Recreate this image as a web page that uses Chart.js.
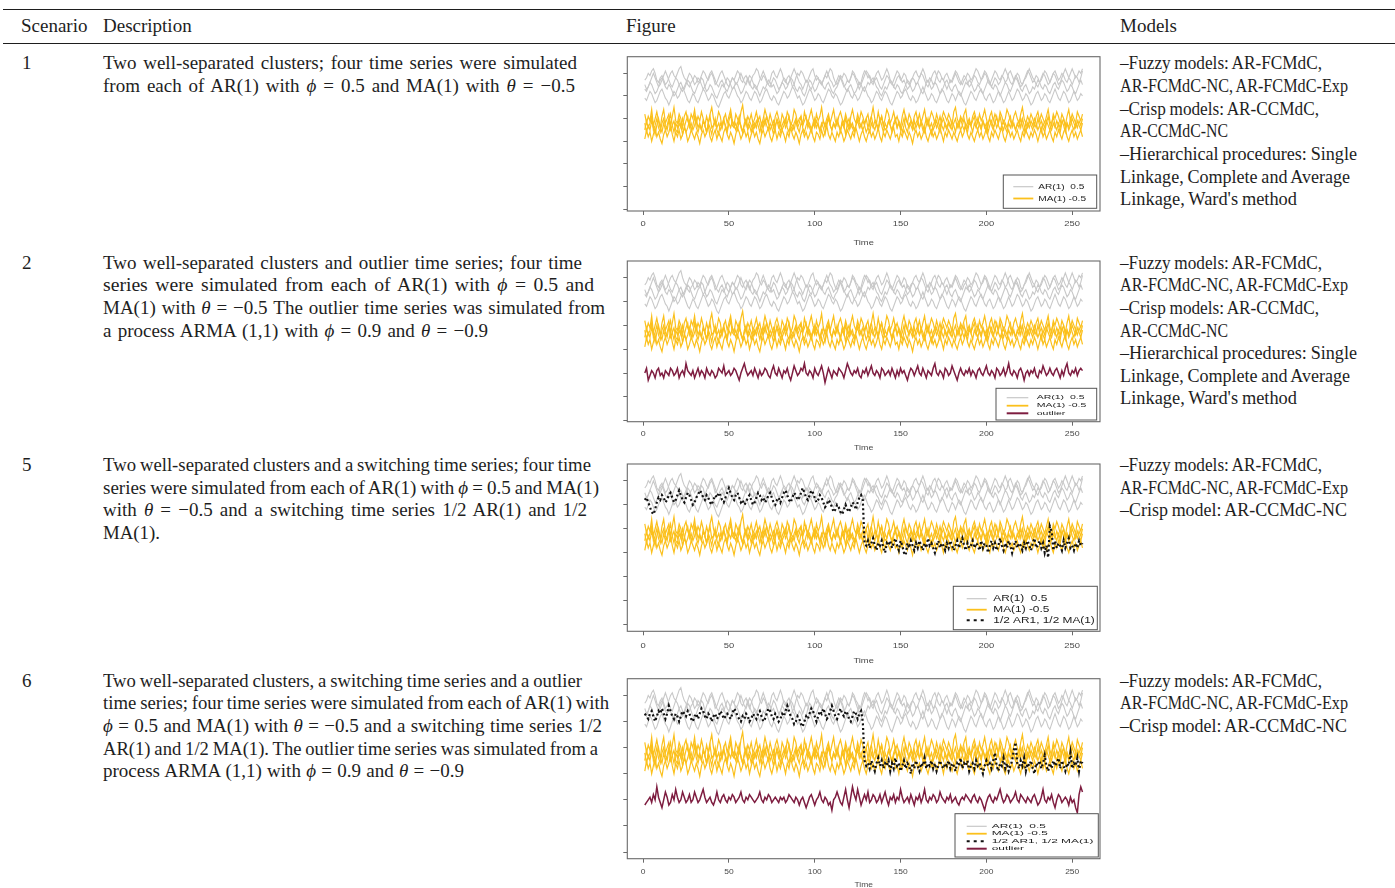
<!DOCTYPE html>
<html lang="en">
<head>
<meta charset="utf-8">
<title>Simulation scenarios</title>
<script src="https://cdn.jsdelivr.net/npm/chart.js@4.4.1/dist/chart.umd.min.js"></script>
<style>
  html, body { margin: 0; padding: 0; background: #fff; }
  body { position: relative; width: 1395px; height: 888px; overflow: hidden;
         font-family: "Liberation Serif", "Times New Roman", serif; color: #1e1e1e; }
  .rule { position: absolute; left: 3px; width: 1392px; height: 1.6px; background: #1e1e1e; }
  .ln { position: absolute; white-space: nowrap; font-size: 19px; line-height: 22.65px; transform-origin: 0 0; }
  .ln i { font-style: italic; }
  canvas.fig { position: absolute; filter: blur(0.3px); }
</style>
</head>
<body>
<div class="rule" style="top:8.5px"></div>
<div class="rule" style="top:42.7px"></div>
<script>
// ---------- simulated series, Time = 1 ... 256 ----------
// AR(1), phi = 0.5
const GRAY_1 = [
  57,58,60,59,61,62,60,57, 56,58,59,57,55,56,58,60,
  61,59,58,60,62,63,60,58, 57,55,54,56,57,59,58,56,
  57,59,61,60,58,57,59,60, 58,55,56,58,60,61,59,57,
  55,54,56,58,57,59,61,60, 57,56,58,59,57,55,57,59,
  60,62,61,58,57,59,58,56, 55,57,60,61,59,58,60,62,
  60,57,56,58,59,57,54,55, 58,60,59,61,60,58,56,57,
  59,61,62,59,57,58,56,55, 57,59,58,60,62,61,58,56,
  55,57,59,58,60,59,57,56, 58,61,60,58,57,55,56,59,
  61,60,58,59,57,56,58,60, 61,59,57,58,60,62,60,57,
  56,54,56,58,59,57,58,60, 59,56,55,57,58,60,61,59,
  58,60,62,60,57,56,58,57, 55,56,59,61,60,58,57,59,
  60,58,56,57,59,61,60,58, 56,55,57,58,60,59,57,58,
  60,62,61,59,57,58,60,59, 56,55,57,59,61,60,58,57,
  59,58,56,57,60,61,59,57, 58,60,59,56,55,57,58,60,
  62,60,58,57,59,58,56,57, 59,61,60,58,56,58,60,61,
  59,57,58,60,59,57,56,58, 60,62,60,58,59,61,60,62];
const GRAY_2 = [
  53,52,54,56,55,53,51,52, 54,57,58,56,54,53,55,54,
  52,50,51,53,55,56,54,53, 55,57,56,54,52,51,53,55,
  56,58,57,54,52,53,55,54, 52,50,49,51,53,55,54,56,
  58,57,55,53,54,56,55,53, 51,52,54,56,58,56,54,53,
  55,54,52,50,52,54,53,55, 57,56,54,55,53,51,52,54,
  56,55,53,54,56,58,57,55, 53,52,54,53,51,50,52,55,
  57,56,54,52,53,55,57,56, 54,53,55,56,54,52,51,53,
  54,56,58,57,55,53,52,54, 55,53,51,52,54,56,55,53,
  52,54,56,55,57,58,56,54, 53,51,50,52,54,53,55,57,
  56,54,53,55,54,52,51,53, 55,57,56,54,52,53,55,56,
  54,52,51,53,56,57,55,53, 54,56,55,53,51,52,54,56,
  57,55,53,52,54,55,53,51, 50,52,54,56,55,57,56,54,
  52,53,55,54,52,51,53,55, 57,56,54,53,55,54,52,50,
  52,54,56,55,53,52,54,56, 58,57,55,53,52,54,55,53,
  51,52,54,53,55,57,56,54, 53,55,54,52,51,53,55,56,
  54,53,55,57,56,54,52,53, 55,54,52,51,53,55,57,55];
const GRAY_3 = [
  49,48,50,52,51,49,47,48, 50,52,53,51,49,48,46,48,
  50,52,51,49,50,52,54,52, 50,48,47,49,51,50,48,47,
  49,51,53,52,50,48,49,51, 50,48,46,45,47,49,51,52,
  50,49,51,53,54,52,50,49, 47,48,50,52,51,49,48,50,
  52,51,49,47,48,50,52,53, 51,49,48,50,49,47,46,48,
  50,52,51,49,50,52,54,53, 51,49,50,48,46,47,49,51,
  53,52,50,48,49,51,50,48, 47,49,51,53,52,50,49,51,
  50,48,46,47,49,51,53,52, 50,49,51,50,48,49,51,53,
  54,52,50,49,47,48,50,52, 51,49,48,50,52,51,49,47,
  46,48,50,52,51,49,50,52, 53,51,49,48,50,49,47,48,
  50,52,54,52,50,48,49,51, 50,48,47,49,51,53,52,50,
  48,47,49,51,50,48,50,52, 51,49,47,46,48,50,52,51,
  49,48,50,52,53,51,49,48, 50,51,49,47,48,50,52,51,
  49,47,48,50,52,50,48,49, 51,53,52,50,48,49,51,50,
  48,46,47,49,51,52,50,48, 49,51,50,48,47,49,51,53,
  51,49,48,50,52,51,49,47, 48,50,52,50,48,49,51,50];
const GRAY_4 = [
  55,53,54,56,58,60,58,56, 54,55,57,59,61,59,57,55,
  54,56,58,57,55,53,52,54, 56,58,60,59,57,55,56,58,
  57,55,53,54,56,58,60,61, 59,57,55,54,56,57,55,53,
  52,54,56,58,57,55,56,58, 60,58,56,55,57,59,58,56,
  54,53,55,57,59,61,59,57, 55,54,56,58,57,55,53,54,
  56,58,57,55,56,58,60,62, 60,58,56,55,53,55,57,56,
  54,53,55,57,59,58,56,55, 57,59,61,59,57,56,54,55,
  57,59,58,56,54,55,57,56, 58,60,59,57,55,53,55,57,
  59,61,60,58,56,55,57,58, 56,54,53,55,57,59,58,56,
  55,57,59,61,60,58,56,57, 55,53,54,56,58,57,55,56,
  58,60,59,57,55,54,56,58, 60,61,59,57,56,58,57,55,
  53,55,57,56,58,60,58,56, 55,57,59,58,56,54,55,57,
  59,58,56,55,57,59,61,60, 58,56,54,56,58,57,55,56,
  58,60,62,60,58,56,55,57, 59,58,56,54,55,57,59,61,
  60,58,56,57,55,54,56,58, 60,59,57,55,56,58,60,59,
  57,55,56,58,60,62,60,58, 57,55,57,59,58,56,58,61];
// MA(1), theta = -0.5
const YELLOW_1 = [
  42,38,41,39,44,37,40,43, 39,36,41,44,38,40,42,37,
  41,45,39,38,42,40,36,41, 43,39,37,42,40,44,38,41,
  39,43,40,37,41,38,42,45, 40,37,39,43,41,36,40,42,
  38,41,44,39,37,42,40,38, 43,46,40,37,41,39,42,38,
  40,43,39,41,37,40,44,41, 38,42,39,36,41,43,40,37,
  42,40,38,43,41,37,39,44, 42,38,40,41,37,43,40,38,
  41,44,40,37,42,39,41,45, 39,37,40,42,38,41,44,39,
  37,41,43,40,38,42,39,36, 41,44,40,38,42,39,43,41,
  38,40,42,37,41,45,40,38, 43,39,41,37,40,44,42,38,
  40,43,39,41,38,36,41,44, 40,38,42,40,37,41,43,39,
  42,38,41,44,39,37,40,43, 41,38,42,39,36,40,43,41,
  39,42,40,37,43,45,40,38, 41,39,42,44,38,40,37,41,
  43,40,38,42,39,41,44,40, 37,41,43,39,42,40,38,43,
  41,38,40,44,42,39,37,41, 43,40,38,42,45,40,38,41,
  39,42,40,37,41,43,39,42, 40,38,41,44,39,37,42,40,
  43,41,38,42,40,37,41,44, 39,42,40,38,43,41,39,42];
const YELLOW_2 = [
  35,39,36,38,41,35,37,40, 36,34,38,40,37,35,39,42,
  37,34,38,36,40,37,33,36, 39,41,36,38,35,37,40,36,
  38,35,39,37,34,38,41,36, 37,40,35,33,38,36,39,37,
  35,39,42,37,36,38,35,39, 37,34,38,40,36,39,37,35,
  38,36,40,37,34,39,37,41, 38,35,37,39,36,40,38,34,
  37,39,36,38,41,37,35,38, 40,36,34,38,37,39,41,36,
  38,35,37,40,36,38,34,37, 39,36,38,41,37,35,38,36,
  40,37,35,39,37,33,38,40, 36,38,35,37,40,38,36,39,
  37,34,36,39,41,37,35,38, 36,40,37,34,38,36,39,37,
  35,38,40,36,39,37,34,37, 41,38,36,39,37,35,38,40,
  36,38,35,37,40,38,36,33, 37,39,36,38,41,37,35,38,
  36,39,37,35,38,40,36,38, 35,37,40,36,34,38,37,39,
  41,37,35,38,36,39,37,34, 38,40,37,35,39,36,38,41,
  37,35,38,36,39,41,36,38, 35,37,39,36,40,37,34,38,
  36,39,37,40,38,35,37,39, 36,34,38,41,37,35,38,36,
  39,37,34,38,40,36,38,35, 37,40,38,36,39,37,35,38];
const YELLOW_3 = [
  31,35,32,34,30,33,36,32, 34,31,29,33,35,32,34,37,
  33,30,34,32,35,31,33,36, 34,30,32,35,33,31,34,32,
  29,33,35,32,34,37,32,30, 33,35,31,34,32,30,34,36,
  33,31,34,32,29,33,36,34, 31,33,35,32,34,30,33,35,
  32,34,31,29,33,35,32,34, 36,32,30,33,35,31,34,32,
  35,33,30,34,32,36,33,31, 34,32,29,33,35,32,34,31,
  33,36,32,30,34,33,31,35, 32,34,37,33,31,34,32,30,
  34,32,35,33,30,32,35,33, 31,34,32,36,33,30,33,35,
  32,30,33,35,32,34,31,33, 36,32,30,34,32,35,33,31,
  34,36,32,33,30,34,32,35, 33,31,34,32,29,33,35,32,
  34,31,33,36,32,30,33,35, 32,34,31,33,36,33,30,34,
  32,35,33,31,34,32,30,33, 35,32,34,37,33,31,34,32,
  30,33,35,32,34,31,33,36, 32,30,34,32,35,33,31,34,
  36,32,30,33,35,32,34,31, 33,35,32,30,34,32,35,33,
  31,34,32,35,33,30,33,36, 32,34,31,33,35,32,30,34,
  32,35,33,31,34,36,32,30, 33,35,32,34,31,33,35,32];
const YELLOW_4 = [
  38,34,37,35,39,36,33,37, 40,36,34,38,35,37,40,35,
  37,39,35,34,38,36,40,37, 34,36,39,35,37,41,36,34,
  37,35,39,37,34,38,36,33, 37,39,36,38,35,37,40,36,
  34,38,36,39,37,35,38,41, 36,34,37,39,35,37,34,38,
  36,39,37,34,38,36,40,37, 35,38,36,33,37,39,36,38,
  35,37,40,36,34,38,37,35, 39,36,38,41,36,34,37,39,
  36,34,38,36,39,37,35,38, 36,33,37,40,37,35,38,36,
  39,37,34,38,36,40,37,35, 38,36,34,37,39,36,38,35,
  37,40,36,34,38,36,39,37, 35,38,41,37,35,36,39,37,
  34,37,39,36,38,35,37,40, 36,34,38,37,35,39,36,38,
  36,39,37,34,37,40,36,38, 35,37,39,36,34,38,40,37,
  35,38,36,39,37,34,38,36, 40,37,35,38,36,39,37,34,
  38,36,40,37,35,39,36,38, 34,37,39,36,38,41,37,35,
  37,39,36,34,38,36,39,37, 35,38,36,40,37,34,38,36,
  39,37,35,38,36,40,37,34, 38,36,39,37,35,38,41,37,
  35,38,36,39,37,34,38,36, 40,37,35,38,36,39,37,40];
// ARMA(1,1) outliers, phi = 0.9, theta = -0.9
const OUTLIER_2 = [
  20,22,17,19,21,20,18,21, 22,19,20,18,21,20,19,22,
  21,19,20,22,18,20,21,19, 24,21,20,19,21,18,20,22,
  19,21,20,18,22,20,19,21, 20,18,19,22,21,20,23,19,
  20,21,19,20,22,21,19,17, 20,22,24,21,19,20,21,19,
  22,20,18,21,19,20,22,21, 19,18,21,23,20,19,22,20,
  18,21,20,22,19,17,20,23, 21,19,20,22,21,24,20,19,
  21,20,18,22,20,19,21,23, 20,16,19,22,20,18,21,20,
  19,22,21,20,18,21,24,22, 20,19,21,20,22,19,18,21,
  20,22,19,21,23,20,19,21, 20,18,22,21,19,20,21,19,
  22,20,18,21,19,22,20,21, 19,17,20,22,21,19,21,23,
  20,19,22,20,18,21,20,19, 22,24,20,19,21,20,18,22,
  21,19,20,23,21,19,17,20, 22,20,19,21,20,22,19,21,
  20,18,21,22,20,19,21,23, 20,19,21,20,18,22,21,19,
  20,22,19,21,24,20,19,21, 20,18,21,22,20,17,20,21,
  19,21,20,22,19,18,21,20, 23,21,19,20,22,20,19,21,
  22,20,18,21,19,22,24,20, 19,21,20,22,19,21,22,21];
const OUTLIER_6 = [
  18,19,20,21,19,22,20,25, 21,19,17,20,23,21,18,19,
  22,20,24,21,19,20,23,21, 19,20,22,19,20,23,21,19,
  20,22,24,21,19,20,21,19, 18,20,23,20,19,21,22,20,
  19,21,20,22,21,19,20,21, 23,20,19,21,20,22,21,20,
  19,20,21,23,20,19,21,20, 22,21,19,20,21,20,19,21,
  20,21,19,20,22,21,20,19, 21,20,18,20,21,19,17,19,
  21,22,20,18,20,21,23,20, 19,21,20,18,19,16,20,21,
  23,21,19,18,21,24,20,17, 21,25,22,20,24,21,18,20,
  22,20,23,19,20,22,21,19, 20,22,19,21,23,20,18,21,
  20,22,19,21,20,24,21,19, 20,21,19,22,20,18,21,20,
  22,19,21,24,20,19,21,20, 22,21,19,20,23,21,20,19,
  21,20,22,19,20,21,19,18, 20,21,20,22,21,20,19,21,
  22,20,19,21,20,18,16,19, 21,22,20,19,21,20,22,24,
  21,19,20,22,21,19,20,21, 23,20,19,22,21,20,19,21,
  20,19,21,22,20,18,19,21, 24,20,19,21,20,22,19,17,
  20,22,21,19,20,21,20,18, 21,19,20,17,15,22,25,23];
// switching series: AR(1) for Time 1-128, MA(1) for Time 129-256
const SWITCH_5 = [
  52,53,51,49,47,46,48,51, 53,52,54,53,51,52,54,55,
  53,51,52,54,56,54,52,51, 53,55,54,52,50,51,53,54,
  56,55,53,52,54,53,51,50, 52,54,53,55,54,52,51,53,
  55,57,55,53,52,54,55,53, 51,52,50,51,53,54,52,50,
  51,53,55,54,52,53,51,52, 54,55,53,51,50,52,53,51,
  53,55,56,54,52,51,53,55, 54,52,53,55,57,55,53,52,
  54,56,55,53,51,52,54,53, 51,49,50,52,51,49,47,48,
  50,49,47,46,48,50,48,47, 49,51,50,48,51,53,54,52,
  34,33,35,32,34,36,33,31, 34,33,35,32,30,34,33,35,
  32,34,36,33,31,35,33,30, 29,34,32,35,33,31,34,32,
  35,33,31,34,32,36,33,34, 32,30,33,35,32,34,33,31,
  34,32,35,33,31,33,35,32, 34,36,33,31,34,32,33,35,
  32,34,33,31,35,32,34,33, 30,33,35,32,34,31,33,36,
  33,31,34,32,35,33,30,33, 35,32,34,33,31,34,32,35,
  33,31,34,36,32,33,35,32, 34,30,33,28,41,39,31,35,
  32,34,33,31,35,32,34,36, 32,33,31,34,32,35,33,34];
const SWITCH_6 = [
  53,52,51,53,54,52,50,52, 54,53,55,53,51,53,56,54,
  52,51,53,52,50,52,54,53, 52,54,53,51,50,52,53,51,
  53,55,54,52,51,53,52,50, 52,53,51,52,54,53,51,52,
  53,52,51,53,55,54,52,51, 50,52,51,53,52,50,51,53,
  52,51,53,54,52,50,51,53, 55,54,52,51,53,52,50,51,
  53,52,54,56,54,52,51,49, 50,52,51,49,48,50,52,51,
  53,55,54,52,50,52,54,53, 55,53,51,52,54,56,54,52,
  51,53,55,53,52,54,53,51, 50,52,54,53,51,53,54,50,
  35,33,34,32,35,33,31,34, 36,33,35,32,34,33,35,31,
  34,32,36,33,34,31,33,35, 32,34,33,30,34,32,35,33,
  31,34,33,36,32,34,33,35, 32,34,31,33,35,33,32,34,
  33,35,32,34,33,31,34,33, 36,32,34,33,35,31,33,34,
  32,35,33,34,32,30,33,35, 33,34,32,35,38,33,31,34,
  33,36,32,34,31,33,35,39, 42,34,32,35,33,36,31,34,
  33,35,32,30,34,33,35,32, 34,37,33,31,34,32,35,33,
  34,36,32,35,33,31,34,33, 38,32,34,33,36,31,35,34];

const TIME = GRAY_1.map((_, i) => i + 1);
const X_TICKS = [0, 50, 100, 150, 200, 250];
const Y_TICKS = [0, 10, 20, 30, 40, 50, 60];
const X_TITLE = 'Time';
const LABEL_AR = 'AR(1)  0.5';
const LABEL_MA = 'MA(1) -0.5';
const LABEL_SW = '1/2 AR1, 1/2 MA(1)';
const LABEL_OUT = 'outlier';

// ---------- table text ----------
const HEADERS = [['Scenario', 21], ['Description', 103], ['Figure', 626], ['Models', 1120]];
const DESC_1 = [
  ['Two well-separated clusters; four time series were simulated', 577],
  ['from each of AR(1) with <i>ϕ</i> = 0.5 and MA(1) with <i>θ</i> = −0.5', 575]];
const DESC_2 = [
  ['Two well-separated clusters and outlier time series; four time', 582],
  ['series were simulated from each of AR(1) with <i>ϕ</i> = 0.5 and', 594],
  ['MA(1) with <i>θ</i> = −0.5 The outlier time series was simulated from', 605],
  ['a process ARMA (1,1) with <i>ϕ</i> = 0.9 and <i>θ</i> = −0.9', 488]];
const DESC_5 = [
  ['Two well-separated clusters and a switching time series; four time', 591],
  ['series were simulated from each of AR(1) with <i>ϕ</i> = 0.5 and MA(1)', 599],
  ['with <i>θ</i> = −0.5 and a switching time series 1/2 AR(1) and 1/2', 587],
  ['MA(1).', 160]];
const DESC_6 = [
  ['Two well-separated clusters, a switching time series and a outlier', 582],
  ['time series; four time series were simulated from each of AR(1) with', 609],
  ['<i>ϕ</i> = 0.5 and MA(1) with <i>θ</i> = −0.5 and a switching time series 1/2', 602],
  ['AR(1) and 1/2 MA(1). The outlier time series was simulated from a', 598],
  ['process ARMA (1,1) with <i>ϕ</i> = 0.9 and <i>θ</i> = −0.9', 464]];
const MODELS_LONG = [
  ['–Fuzzy models: AR-FCMdC,', 1322],
  ['AR-FCMdC-NC, AR-FCMdC-Exp', 1348],
  ['–Crisp models: AR-CCMdC,', 1319],
  ['AR-CCMdC-NC', 1228],
  ['–Hierarchical procedures: Single', 1357],
  ['Linkage, Complete and Average', 1350],
  ["Linkage, Ward's method", 1297]];
const MODELS_SHORT = [
  ['–Fuzzy models: AR-FCMdC,', 1322],
  ['AR-FCMdC-NC, AR-FCMdC-Exp', 1348],
  ['–Crisp model: AR-CCMdC-NC', 1347]];
const TABLE_ROWS = [
  { scenario: '1', baseline: 70,    description: DESC_1, models: MODELS_LONG },
  { scenario: '2', baseline: 269.3, description: DESC_2, models: MODELS_LONG },
  { scenario: '5', baseline: 471.7, description: DESC_5, models: MODELS_SHORT },
  { scenario: '6', baseline: 687.3, description: DESC_6, models: MODELS_SHORT }];

const LINE_STEP = 22.65;
const BASE_OFFSET = 17.74;   // baseline position inside a .ln box
const fitQueue = [];

function addLine(html, left, baseline, right) {
  const d = document.createElement('div');
  d.className = 'ln';
  d.innerHTML = html;
  d.style.left = left + 'px';
  d.style.top = (baseline - BASE_OFFSET) + 'px';
  document.body.appendChild(d);
  if (right) fitQueue.push([d, right - left]);
}

HEADERS.forEach(([t, x]) => addLine(t, x, 32.3));
TABLE_ROWS.forEach(row => {
  addLine(row.scenario, 22, row.baseline);
  row.description.forEach(([t, r], k) => addLine(t, 103, row.baseline + k * LINE_STEP, r));
  row.models.forEach(([t, r], k) => addLine(t, 1120, row.baseline + k * LINE_STEP, r));
});

// fit each line to its column width: a little word spacing, the rest by a horizontal scale
function justifyLines() {
  fitQueue.forEach(([el, target]) => {
    const natural = el.getBoundingClientRect().width;
    const spaces = (el.textContent.match(/ /g) || []).length;
    if (spaces) {
      const ws = Math.max(-0.8, Math.min(2.5, (target - natural) / spaces));
      el.style.wordSpacing = ws.toFixed(2) + 'px';
    }
    const now = el.getBoundingClientRect().width;
    const k = Math.max(0.82, Math.min(1.2, target / now));
    el.style.transform = 'scaleX(' + k.toFixed(4) + ')';
  });
}

// ---------- figure panels ----------
const STYLE = {
  ar:  { color: '#c8c8c8', width: 1.1, dash: [],       order: 4, legendWidth: 1.2, legendDash: [] },
  ma:  { color: '#fbc01c', width: 1.2, dash: [],       order: 3, legendWidth: 1.8, legendDash: [] },
  out: { color: '#7e1d40', width: 1.5, dash: [],       order: 2, legendWidth: 2.0, legendDash: [] },
  sw:  { color: '#111111', width: 2.2, dash: [2, 2.6], order: 1, legendWidth: 2.0, legendDash: [3, 4] }
};

const BANDS = [['ar', GRAY_1], ['ar', GRAY_2], ['ar', GRAY_3], ['ar', GRAY_4],
               ['ma', YELLOW_1], ['ma', YELLOW_2], ['ma', YELLOW_3], ['ma', YELLOW_4]];

const PANELS = [
  { series: BANDS,
    boxTop: 56.7, boxBottom: 211, yMin: -0.75, yMax: 67.3,
    tick: { fs: 7.5, sx: 1.25, labelDy: 13.3, titleDy: 31.7 },
    legend: { left: 1003.3, top: 175, right: 1096.7, bottom: 208.3, rows: [186.7, 198.5],
              x1: 1013.3, x2: 1033.3, tx: 1038.3, fs: 7.6, sx: 1.33,
              entries: [['ar', LABEL_AR], ['ma', LABEL_MA]] } },
  { series: BANDS.concat([['out', OUTLIER_2]]),
    boxTop: 261, boxBottom: 421.7, yMin: -0.4, yMax: 67.0,
    tick: { fs: 6.8, sx: 1.3, labelDy: 12.3, titleDy: 26 },
    legend: { left: 996, top: 388.3, right: 1096.7, bottom: 420, rows: [397.7, 405.7, 413.3],
              x1: 1006.7, x2: 1028.3, tx: 1036.7, fs: 6.0, sx: 1.75,
              entries: [['ar', LABEL_AR], ['ma', LABEL_MA], ['out', LABEL_OUT]] } },
  { series: BANDS.concat([['sw', SWITCH_5]]),
    boxTop: 464, boxBottom: 631.3, yMin: -2.75, yMax: 67.0,
    tick: { fs: 7.5, sx: 1.25, labelDy: 14.4, titleDy: 30 },
    legend: { left: 953.3, top: 586.3, right: 1097.3, bottom: 629.7, rows: [598.7, 609.7, 620.3],
              x1: 966.7, x2: 986.7, tx: 993.3, fs: 8.6, sx: 1.38,
              entries: [['ar', LABEL_AR], ['ma', LABEL_MA], ['sw', LABEL_SW]] } },
  { series: BANDS.concat([['sw', SWITCH_6], ['out', OUTLIER_6]]),
    boxTop: 678.7, boxBottom: 858.7, yMin: -2.56, yMax: 66.4,
    tick: { fs: 6.5, sx: 1.3, labelDy: 13.3, titleDy: 26.6 },
    legend: { left: 955, top: 813.7, right: 1098.3, bottom: 857, rows: [826.3, 833.7, 841.3, 848.7],
              x1: 966.7, x2: 986.7, tx: 991.7, fs: 6.1, sx: 1.95,
              entries: [['ar', LABEL_AR], ['ma', LABEL_MA], ['sw', LABEL_SW], ['out', LABEL_OUT]] } }
];

const CANVAS_LEFT = 596, CANVAS_W = 514, BOX_LEFT = 627.3, BOX_RIGHT = 1100;
const X_MIN = -9.2, X_MAX = 266.2;

function stretchedText(ctx, text, x, y, fs, sx, align) {
  ctx.save();
  ctx.translate(x, y);
  ctx.scale(sx, 1);
  ctx.font = fs + 'px "Liberation Sans", Arial, sans-serif';
  ctx.textAlign = align;
  ctx.textBaseline = 'middle';
  ctx.fillText(text, 0, 0);
  ctx.restore();
}

function framePlugin(p, canvasTop) {
  return {
    id: 'rFrame',
    afterDatasetsDraw(chart) {
      const ctx = chart.ctx, a = chart.chartArea;
      ctx.save();
      // plot box
      ctx.strokeStyle = '#6a6a6a';
      ctx.lineWidth = 1.1;
      ctx.strokeRect(a.left, a.top, a.right - a.left, a.bottom - a.top);
      // x tick labels and axis title
      const xs = chart.scales.x;
      ctx.fillStyle = '#4a4a4a';
      X_TICKS.forEach(v => stretchedText(ctx, String(v), xs.getPixelForValue(v),
        a.bottom + p.tick.labelDy, p.tick.fs, p.tick.sx, 'center'));
      stretchedText(ctx, X_TITLE, (a.left + a.right) / 2, a.bottom + p.tick.titleDy,
        p.tick.fs, p.tick.sx, 'center');
      // legend
      const L = p.legend, ox = CANVAS_LEFT, oy = canvasTop;
      ctx.fillStyle = '#fff';
      ctx.fillRect(L.left - ox, L.top - oy, L.right - L.left, L.bottom - L.top);
      ctx.strokeStyle = '#555';
      ctx.lineWidth = 1;
      ctx.strokeRect(L.left - ox, L.top - oy, L.right - L.left, L.bottom - L.top);
      L.entries.forEach(([kind, label], k) => {
        const y = L.rows[k] - oy, st = STYLE[kind];
        ctx.beginPath();
        ctx.setLineDash(st.legendDash);
        ctx.strokeStyle = st.color;
        ctx.lineWidth = st.legendWidth;
        ctx.moveTo(L.x1 - ox, y);
        ctx.lineTo(L.x2 - ox, y);
        ctx.stroke();
        ctx.setLineDash([]);
        ctx.fillStyle = '#222';
        stretchedText(ctx, label, L.tx - ox, y, L.fs, L.sx, 'left');
      });
      ctx.restore();
    }
  };
}

function buildPanel(p) {
  const canvasTop = Math.floor(p.boxTop) - 6;
  const canvasBottom = Math.ceil(p.boxBottom) + 40;
  const h = canvasBottom - canvasTop;
  const cv = document.createElement('canvas');
  cv.className = 'fig';
  cv.width = CANVAS_W;
  cv.height = h;
  cv.style.left = CANVAS_LEFT + 'px';
  cv.style.top = canvasTop + 'px';
  cv.style.width = CANVAS_W + 'px';
  cv.style.height = h + 'px';
  document.body.appendChild(cv);

  const datasets = p.series.map(([kind, values]) => ({
    data: values.map((v, i) => ({ x: TIME[i], y: v })),
    borderColor: STYLE[kind].color,
    borderWidth: STYLE[kind].width,
    borderDash: STYLE[kind].dash,
    order: STYLE[kind].order,
    pointRadius: 0,
    tension: 0,
    fill: false
  }));

  const axisGrid = { drawOnChartArea: false, drawTicks: true, tickLength: 4, color: '#6a6a6a', lineWidth: 1 };
  const xHeight = canvasBottom - p.boxBottom;

  new Chart(cv, {
    type: 'line',
    data: { datasets },
    options: {
      responsive: false,
      animation: false,
      devicePixelRatio: 1,
      events: [],
      layout: { padding: { left: 0, right: CANVAS_LEFT + CANVAS_W - BOX_RIGHT, top: p.boxTop - canvasTop, bottom: 0 } },
      plugins: { legend: { display: false }, tooltip: { enabled: false } },
      scales: {
        x: {
          type: 'linear', min: X_MIN, max: X_MAX,
          afterBuildTicks: s => { s.ticks = X_TICKS.map(v => ({ value: v })); },
          afterFit: s => { s.height = xHeight; },
          grid: axisGrid, border: { display: false }, ticks: { display: false }
        },
        y: {
          type: 'linear', min: p.yMin, max: p.yMax,
          afterBuildTicks: s => { s.ticks = Y_TICKS.map(v => ({ value: v })); },
          afterFit: s => { s.width = BOX_LEFT - CANVAS_LEFT; },
          grid: axisGrid, border: { display: false }, ticks: { display: false }
        }
      }
    },
    plugins: [framePlugin(p, canvasTop)]
  });
}

PANELS.forEach(buildPanel);

if (document.fonts && document.fonts.ready) {
  document.fonts.ready.then(justifyLines);
} else {
  justifyLines();
}
</script>
</body>
</html>
